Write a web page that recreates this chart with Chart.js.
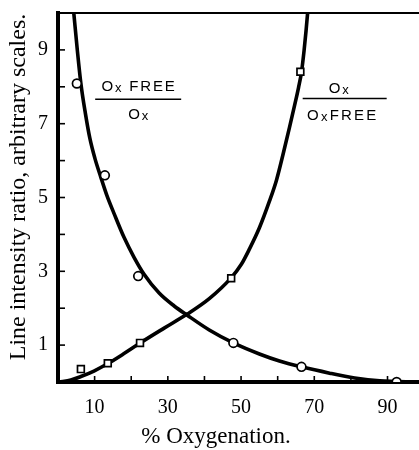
<!DOCTYPE html>
<html>
<head>
<meta charset="utf-8">
<script src="https://cdn.jsdelivr.net/npm/chart.js@4/dist/chart.umd.min.js"></script>
<style>
html,body{margin:0;padding:0;background:#fff;}
#wrap{width:419px;height:450px;position:relative;}
</style>
</head>
<body>
<div id="wrap"><canvas id="c" width="419" height="450"></canvas></div>
<script>
// Measured points: Ox FREE / Ox (circles)
const freeRatioX = [5.15, 12.8, 21.9, 47.9, 66.5, 92.5];
const freeRatioY = [8.09, 5.60, 2.87, 1.06, 0.41, 0.0];
// Measured points: Ox / Ox FREE (squares)
const oxRatioX = [6.25, 13.6, 22.4, 47.3, 66.2];
const oxRatioY = [0.35, 0.51, 1.06, 2.81, 8.41];
// Smooth curves
const freeCurveX = [4.33, 5.29, 6.25, 7.48, 8.71, 10.08, 11.73, 13.37, 15.29, 18.03, 20.77, 23.51, 27.62, 31.73, 35.29, 41.32, 47.89, 55.01, 60.49, 66.52, 74.19, 81.04, 87.89, 98.6];
const freeCurveY = [9.98, 8.98, 8.09, 7.28, 6.60, 6.06, 5.54, 5.05, 4.57, 3.92, 3.38, 2.92, 2.41, 2.06, 1.81, 1.41, 1.06, 0.76, 0.57, 0.41, 0.24, 0.11, 0.03, 0.0];
const oxCurveX = [0.22, 3.51, 6.25, 9.81, 13.64, 18.03, 22.41, 28.99, 35.29, 41.32, 47.34, 50.08, 52.27, 55.01, 57.75, 59.67, 61.59, 63.23, 64.60, 65.70, 66.52, 67.21, 67.75, 68.16];
const oxCurveY = [0.0, 0.054, 0.149, 0.298, 0.50, 0.77, 1.055, 1.46, 1.84, 2.26, 2.83, 3.19, 3.60, 4.18, 4.90, 5.47, 6.22, 6.90, 7.49, 7.98, 8.41, 8.98, 9.52, 9.98];
// Axis ticks
const xTickLabels = [10, 30, 50, 70, 90];
const yTickLabels = [1, 3, 5, 7, 9];
const xTitle = '% Oxygenation.';
const yTitle = 'Line intensity ratio, arbitrary scales.';

const pts = (xs, ys) => xs.map((x, i) => ({x: x, y: ys[i]}));

const serif = '"Liberation Serif", "DejaVu Serif", serif';
const sans = '"Liberation Sans", "DejaVu Sans", sans-serif';

function spaced(ctx, parts, x, y, spacing) {
  let total = 0;
  parts.forEach(p => { ctx.font = p.font; for (const ch of p.t) total += ctx.measureText(ch).width + spacing; });
  total -= spacing;
  let cx = x - total / 2;
  parts.forEach(p => {
    ctx.font = p.font;
    for (const ch of p.t) { ctx.fillText(ch, cx, y + (p.dy || 0)); cx += ctx.measureText(ch).width + spacing; }
  });
}

const deco = {
  id: 'deco',
  afterDraw(chart) {
    const ctx = chart.ctx, xs = chart.scales.x, ys = chart.scales.y, a = chart.chartArea;
    ctx.save();
    ctx.strokeStyle = '#000'; ctx.fillStyle = '#000';
    // top border
    ctx.lineWidth = 2;
    ctx.beginPath(); ctx.moveTo(a.left, a.top); ctx.lineTo(a.right, a.top); ctx.stroke();
    // inward ticks
    ctx.lineWidth = 1.6;
    for (let v = 1; v <= 9; v++) {
      const py = ys.getPixelForValue(v);
      ctx.beginPath(); ctx.moveTo(a.left, py); ctx.lineTo(a.left + 7, py); ctx.stroke();
    }
    for (let v = 10; v <= 90; v += 10) {
      const px = xs.getPixelForValue(v);
      ctx.beginPath(); ctx.moveTo(px, a.bottom); ctx.lineTo(px, a.bottom - 6); ctx.stroke();
    }
    // fraction labels
    ctx.textBaseline = 'alphabetic';
    const big = '500 15px ' + sans, small = '500 13px ' + sans;
    let cx = xs.getPixelForValue(21.9), ly = ys.getPixelForValue(7.66);
    spaced(ctx, [{t: 'O', font: big}, {t: 'x', font: small, dy: 1}, {t: ' FREE', font: big}], cx, ly - 8, 1.8);
    ctx.lineWidth = 1.5;
    ctx.beginPath(); ctx.moveTo(cx - 43, ly); ctx.lineTo(cx + 43, ly); ctx.stroke();
    spaced(ctx, [{t: 'O', font: big}, {t: 'x', font: small, dy: 1}], cx, ly + 20, 1.8);
    cx = xs.getPixelForValue(78.3); ly = ys.getPixelForValue(7.68);
    spaced(ctx, [{t: 'O', font: big}, {t: 'x', font: small, dy: 1}], cx - 6, ly - 6, 1.8);
    ctx.beginPath(); ctx.moveTo(cx - 42, ly); ctx.lineTo(cx + 42, ly); ctx.stroke();
    spaced(ctx, [{t: 'O', font: big}, {t: 'x', font: small, dy: 1}, {t: 'FREE', font: big}], cx - 3, ly + 21, 2.2);
    // axis titles
    ctx.textAlign = 'center';
    ctx.font = '23px ' + serif;
    ctx.fillText(xTitle, 216, 443);
    ctx.font = '24px ' + serif;
    ctx.translate(25, 187);
    ctx.rotate(-Math.PI / 2);
    ctx.fillText(yTitle, 0, 0);
    ctx.restore();
  }
};

new Chart(document.getElementById('c'), {
  type: 'scatter',
  data: {
    datasets: [
      {data: pts(freeCurveX, freeCurveY), showLine: true, borderColor: '#000', borderWidth: 3.6,
       pointRadius: 0, cubicInterpolationMode: 'monotone', fill: false, order: 2},
      {data: pts(oxCurveX, oxCurveY), showLine: true, borderColor: '#000', borderWidth: 3.6,
       pointRadius: 0, cubicInterpolationMode: 'monotone', fill: false, order: 2},
      {data: pts(freeRatioX, freeRatioY), pointStyle: 'circle', pointRadius: 4.4, borderWidth: 1.7,
       borderColor: '#000', backgroundColor: '#fff', order: 1},
      {data: pts(oxRatioX, oxRatioY), pointStyle: 'rect', pointRadius: 4.8, borderWidth: 1.7,
       borderColor: '#000', backgroundColor: '#fff', order: 1}
    ]
  },
  options: {
    responsive: false,
    animation: false,
    devicePixelRatio: 1,
    layout: {autoPadding: false, padding: {top: 13, right: 0, left: 0, bottom: 0}},
    plugins: {legend: {display: false}, tooltip: {enabled: false}},
    scales: {
      x: {
        type: 'linear', min: 0, max: 98.6,
        afterFit: s => { s.height = 68; s.paddingLeft = 0; s.paddingRight = 0; },
        grid: {display: false, drawTicks: false},
        border: {display: true, color: '#000', width: 4},
        ticks: {
          stepSize: 10, padding: 14, autoSkip: false, includeBounds: false, maxRotation: 0, color: '#000', font: {family: serif, size: 20},
          callback: v => xTickLabels.includes(v) ? String(v) : ''
        }
      },
      y: {
        type: 'linear', min: 0, max: 10,
        afterFit: s => { s.width = 58; s.paddingTop = 0; s.paddingBottom = 0; },
        grid: {display: false, drawTicks: false},
        border: {display: true, color: '#000', width: 4},
        ticks: {
          stepSize: 1, padding: 10, autoSkip: false, color: '#000', font: {family: serif, size: 20},
          callback: v => yTickLabels.includes(v) ? String(v) : ''
        }
      }
    }
  },
  plugins: [deco]
});
</script>
</body>
</html>
